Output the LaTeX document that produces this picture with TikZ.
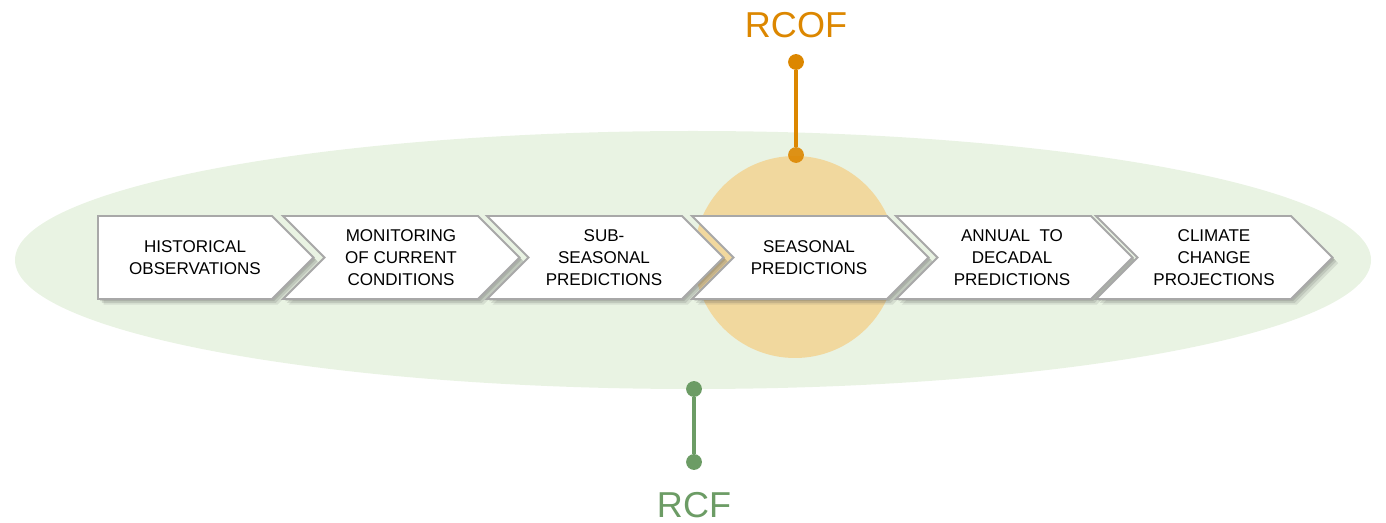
\documentclass[tikz,border=0pt]{standalone}
\usepackage{fontspec}
\setmainfont{Liberation Sans}
\usetikzlibrary{shadows}

\definecolor{cofgreen}{HTML}{E9F3E3}
\definecolor{cofsun}{HTML}{F1D89E}
\definecolor{coforange}{HTML}{DC8700}
\definecolor{cofleaf}{HTML}{6C9C65}
\definecolor{cofrim}{HTML}{A8A8A8}

\begin{document}
\begin{tikzpicture}[x=0.02cm, y=-0.02cm,
	chevron/.style={draw=cofrim, line width=1.1pt, fill=white, line join=miter,
		drop shadow={shadow xshift=3.2pt, shadow yshift=-3.2pt, opacity=.12, fill=black!70},
		drop shadow={shadow xshift=2.2pt, shadow yshift=-2.2pt, opacity=.15, fill=black!70},
		drop shadow={shadow xshift=1.2pt, shadow yshift=-1.2pt, opacity=.18, fill=black!70}}]
	\useasboundingbox (0,0) rectangle (1386,523);
	
	% BACKGROUND
	\fill[cofgreen] (693,260) ellipse [x radius=678, y radius=129];
	\fill[cofsun] (795,257) circle [radius=101];
	
	% CHEVRONS
	\path[chevron] (98,216) -- (272,216) -- (313.5,257.5) -- (272,299) -- (98,299) -- cycle;
	\foreach \x in {283, 487, 692, 896, 1096}
		\path[chevron] (\x,216) -- (\x+195,216) -- (\x+236.5,257.5) -- (\x+195,299) -- (\x,299) -- (\x+41.5,257.5) -- cycle;
	
	\tikzstyle{every node}=[align=center, inner sep=0pt, font=\fontsize{9.7}{12.5}\selectfont]
	\path (195,258) node (c1) {HISTORICAL\\OBSERVATIONS};
	\path (401,258) node (c2) {MONITORING\\OF CURRENT\\CONDITIONS};
	\path (604,258) node (c3) {SUB-\\SEASONAL\\PREDICTIONS};
	\path (809,258) node (c4) {SEASONAL\\PREDICTIONS};
	\path (1012,258) node (c5) {ANNUAL\ \ TO\\DECADAL\\PREDICTIONS};
	\path (1214,258) node (c6) {CLIMATE\\CHANGE\\PROJECTIONS};
	
	% RCOF
	\tikzstyle{every node}=[circle, inner sep=0pt, minimum size=9pt]
	\path (796,62) node[fill=coforange] (rcoftop) {};
	\path (796,155) node[fill=coforange, fill opacity=.9] (rcofbot) {};
	\draw[coforange, line width=1.8pt] (rcoftop) -- (rcofbot);
	\path (796,25) node[rectangle, text=coforange, font=\fontsize{20.5}{24}\selectfont] (rcof) {RCOF};
	
	% RCF
	\path (694,389) node[fill=cofleaf] (rcftop) {};
	\path (694,462) node[fill=cofleaf] (rcfbot) {};
	\draw[cofleaf, line width=1.8pt] (rcftop) -- (rcfbot);
	\path (694,505) node[rectangle, text=cofleaf, font=\fontsize{20.5}{24}\selectfont] (rcf) {RCF};
\end{tikzpicture}
\end{document}
